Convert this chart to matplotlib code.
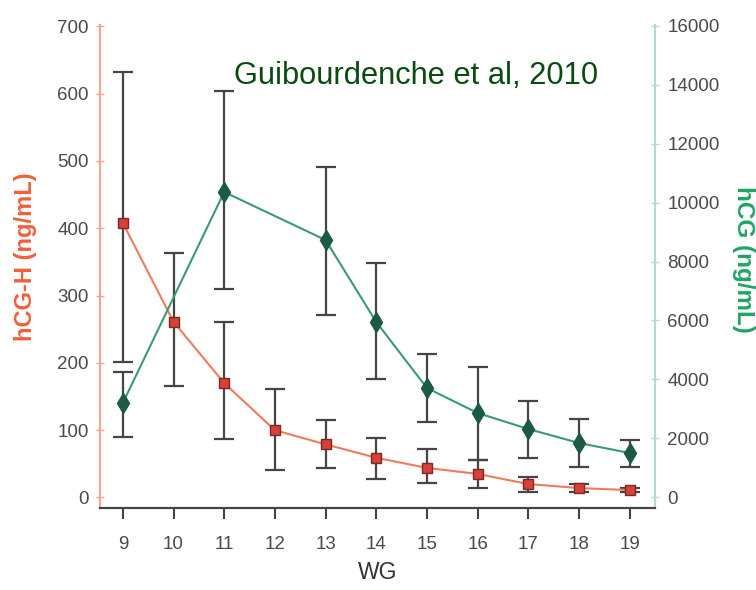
import matplotlib.pyplot as plt
import numpy as np

# hCG-H (left axis)
weeks = [9, 10, 11, 12, 13, 14, 15, 16, 17, 18, 19]
hcgh = [408, 261, 170, 100, 79, 59, 44, 35, 20, 14, 11]
hcgh_low = [201, 166, 87, 41, 44, 27, 21, 14, 8, 8, 8]
hcgh_high = [632, 363, 261, 161, 115, 88, 72, 56, 30, 20, 14]

# hCG (right axis), no points at weeks 10 and 12
weeks_hcg = [9, 11, 13, 14, 15, 16, 17, 18, 19]
hcg = [3203, 10356, 8729, 5949, 3712, 2864, 2322, 1847, 1508]
hcg_low = [2051, 7068, 6186, 4017, 2559, 1271, 1339, 1034, 1034]
hcg_high = [4254, 13780, 11203, 7949, 4864, 4424, 3271, 2661, 1949]

plt.rcParams['font.family'] = ['Liberation Sans', 'DejaVu Sans']

red_line = '#f07a5c'
red_mark = '#d8403a'
green_line = '#3a9a72'
green_mark = '#1c5a42'
err_col = '#454545'

fig = plt.figure(figsize=(7.56, 5.9), dpi=100)
ax = fig.add_axes([0.1323, 0.139, 0.7341, 0.8186])
ax2 = ax.twinx()

yerr_r = [np.array(hcgh) - np.array(hcgh_low), np.array(hcgh_high) - np.array(hcgh)]
ax.errorbar(weeks, hcgh, yerr=yerr_r, fmt='none', ecolor=err_col, elinewidth=1.6,
            capsize=7, capthick=1.6, zorder=2)
ax.plot(weeks, hcgh, color=red_line, lw=1.5, marker='s', markersize=7.5,
        markerfacecolor=red_mark, markeredgecolor='#7a2a20', markeredgewidth=1, zorder=3)

yerr_g = [np.array(hcg) - np.array(hcg_low), np.array(hcg_high) - np.array(hcg)]
ax2.errorbar(weeks_hcg, hcg, yerr=yerr_g, fmt='none', ecolor=err_col, elinewidth=1.6,
             capsize=7, capthick=1.6, zorder=2)
ax2.plot(weeks_hcg, hcg, color=green_line, lw=1.5, marker='d', markersize=10,
         markerfacecolor=green_mark, markeredgecolor=green_mark, zorder=3)

ax.set_xlim(8.55, 19.5)
ax.set_ylim(-15.6, 702)
ax2.set_ylim(-356, 16017)

ax.set_xticks(weeks)
ax.set_yticks(range(0, 701, 100))
ax2.set_yticks(range(0, 16001, 2000))

for a in (ax, ax2):
    a.spines['top'].set_visible(False)
    a.spines['bottom'].set_color('#444444')
    a.spines['bottom'].set_linewidth(1.5)
ax.spines['left'].set_color('#f4a48e')
ax.spines['left'].set_linewidth(1.5)
ax.spines['right'].set_visible(False)
ax2.spines['left'].set_visible(False)
ax2.spines['right'].set_color('#b4dccc')
ax2.spines['right'].set_linewidth(1.5)

ax.tick_params(axis='x', direction='out', length=8, width=1.5, color='#444444',
               pad=12, labelsize=13.5, labelcolor='#4a4a4a')
ax.tick_params(axis='y', direction='inout', length=6, width=1, color='#f4a48e',
               pad=5, labelsize=13.5, labelcolor='#4a4a4a')
ax2.tick_params(axis='y', direction='inout', length=6, width=1, color='#b4dccc',
                pad=6, labelsize=13.5, labelcolor='#4a4a4a')

ax.set_xlabel('WG', fontsize=16.5, color='#333333', labelpad=6)
fig.text(0.034, 0.565, 'hCG-H (ng/mL)', rotation=90, fontsize=17, fontweight='bold',
         color='#f0603a', ha='center', va='center')
fig.text(0.983, 0.56, 'hCG (ng/mL)', rotation=270, fontsize=17.5, fontweight='bold',
         color='#22a466', ha='center', va='center')
fig.text(0.551, 0.871, 'Guibourdenche et al, 2010', fontsize=22.2, color='#0b4a10',
         ha='center', va='center')

fig.savefig('out.png', dpi=100)
